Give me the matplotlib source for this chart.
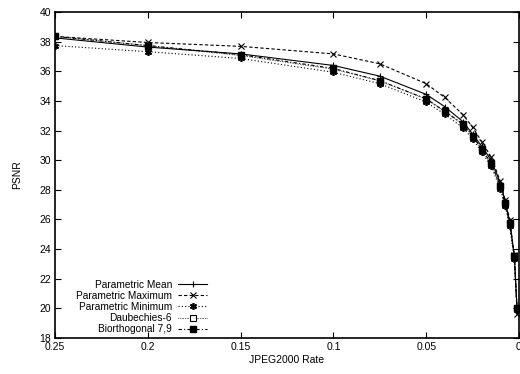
import matplotlib
matplotlib.use("Agg")
import matplotlib.pyplot as plt

plt.rcParams['font.family'] = ['Liberation Sans', 'DejaVu Sans']

rates = [0.25, 0.2, 0.15, 0.1, 0.075, 0.05, 0.04, 0.03, 0.025, 0.02, 0.015, 0.01, 0.0075, 0.005, 0.0025, 0.001]
param_mean = [38.25, 37.63, 37.17, 36.39, 35.67, 34.44, 33.61, 32.58, 31.76, 30.93, 30.0, 28.46, 27.22, 25.88, 23.52, 19.9]
param_max = [38.35, 37.94, 37.68, 37.17, 36.5, 35.16, 34.23, 33.05, 32.22, 31.24, 30.21, 28.56, 27.33, 25.99, 23.62, 19.6]
param_min = [37.73, 37.32, 36.86, 35.93, 35.16, 33.92, 33.1, 32.17, 31.45, 30.52, 29.6, 28.05, 26.91, 25.57, 23.31, 19.9]
daub6 = [38.35, 37.73, 37.06, 36.14, 35.36, 34.13, 33.3, 32.38, 31.6, 30.68, 29.75, 28.25, 27.12, 25.78, 23.52, 20.0]
bior79 = [38.35, 37.73, 37.12, 36.19, 35.36, 34.13, 33.3, 32.43, 31.66, 30.73, 29.8, 28.25, 27.12, 25.78, 23.52, 20.0]

fig = plt.figure(figsize=(5.2, 3.74), dpi=100)
ax = fig.add_axes([0.106, 0.0963, 0.892, 0.8717])

lw = 0.8
ax.plot(rates, param_mean, '-', color='black', lw=lw, marker='+', ms=5, mew=0.8,
        label='Parametric Mean')
ax.plot(rates, param_max, color='black', lw=lw, ls=(0, (3, 2)), marker='x', ms=4, mew=0.8,
        label='Parametric Maximum')
ax.plot(rates, param_min, color='black', lw=lw, ls=(0, (1, 2)), marker=(6, 2, 0), ms=5, mew=1.2,
        label='Parametric Minimum')
ax.plot(rates, daub6, color='black', lw=lw, ls=(0, (0.5, 1)), marker='s', ms=4,
        mfc='white', mew=0.8, label='Daubechies-6')
ax.plot(rates, bior79, color='black', lw=lw, ls=(0, (3, 2, 1, 2)), marker='s', ms=4.5,
        label='Biorthogonal 7,9')

ax.set_xlim(0.25, 0)
ax.set_ylim(18, 40)
ax.set_xticks([0.25, 0.2, 0.15, 0.1, 0.05, 0])
ax.set_xticklabels(['0.25', '0.2', '0.15', '0.1', '0.05', '0'])
ax.set_yticks(range(18, 41, 2))
ax.tick_params(direction='in', top=True, right=True, labelsize=7.5, length=4, width=0.8,
               pad=3)
for s in ax.spines.values():
    s.set_linewidth(1.2)

ax.set_xlabel('JPEG2000 Rate', fontsize=7.5, labelpad=2)
ax.set_ylabel('PSNR', fontsize=7.5, labelpad=12)

ax.legend(loc='lower left', bbox_to_anchor=(0.045, 0.012), frameon=False, fontsize=7.3,
          markerfirst=False, handlelength=2.9, handletextpad=0.6, labelspacing=0.1,
          borderpad=0, borderaxespad=0)

fig.savefig('out.png', dpi=100)
